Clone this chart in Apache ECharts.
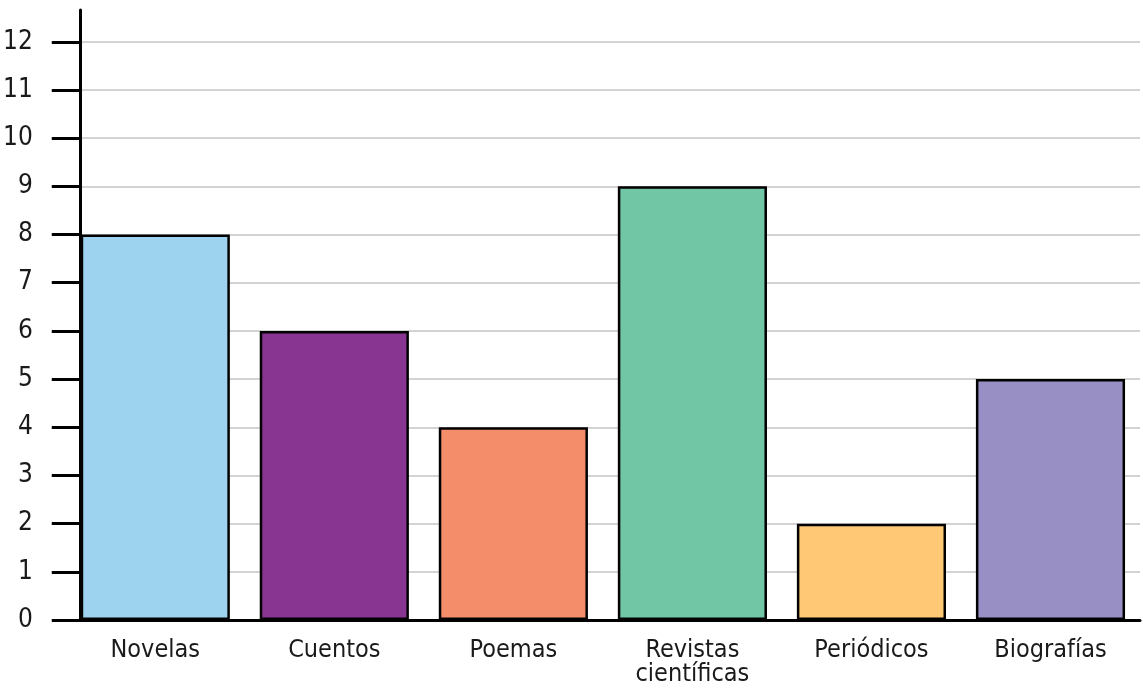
<!DOCTYPE html>
<html><head><meta charset="utf-8">
<script src="https://cdn.jsdelivr.net/npm/echarts@6/dist/echarts.min.js"></script>
<style>html,body{margin:0;padding:0;background:#fff}#c{width:1143px;height:698px}</style>
</head><body><div id="c"></div>
<script>
const categories = ['Novelas', 'Cuentos', 'Poemas', 'Revistas\ncientíficas', 'Periódicos', 'Biografías'];
const values = [8, 6, 4, 9, 2, 5];
const colors = ['#9DD3EE', '#883491', '#F48D6A', '#71C6A5', '#FEC874', '#9890C5'];
const yTicks = [0,1,2,3,4,5,6,7,8,9,10,11,12];

const font = '"Liberation Sans Narrow","DejaVu Sans Condensed",sans-serif';
const chart = echarts.init(document.getElementById('c'));
chart.setOption({
  animation: false,
  grid: {left: 59, right: 3, top: 10, bottom: 78},
  xAxis: {
    type: 'category', data: categories,
    axisLine: {lineStyle: {color: '#000', width: 3}},
    axisTick: {show: false},
    axisLabel: {color: '#1a1a1a', fontFamily: font, fontSize: 25, margin: 18, lineHeight: 24}
  },
  yAxis: {
    type: 'value', min: 0, max: 12.66, interval: 1, offset: -14,
    axisLine: {show: true, lineStyle: {color: '#000', width: 3}},
    axisTick: {show: true, length: 28, lineStyle: {color: '#000', width: 3}, customValues: yTicks},
    axisLabel: {color: '#1a1a1a', fontFamily: font, fontSize: 26, margin: 47, customValues: yTicks},
    splitLine: {show: true, showMaxLine: true, lineStyle: {color: '#d3d3d3', width: 2}}
  },
  series: [{
    type: 'bar', barCategoryGap: '16.7%',
    data: values.map((v, i) => ({value: v, itemStyle: {color: colors[i]}})),
    itemStyle: {borderColor: '#000', borderWidth: 2.5}
  }]
});
</script></body></html>
